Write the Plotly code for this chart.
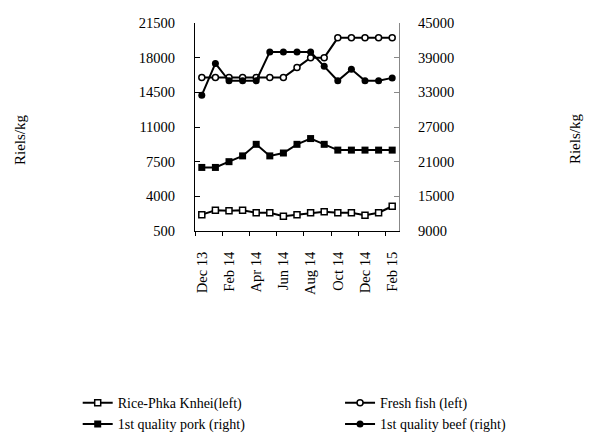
import plotly.graph_objects as go

# Monthly average retail prices, Dec 2013 - Feb 2015
months = ["Dec 13", "Jan 14", "Feb 14", "Mar 14", "Apr 14", "May 14", "Jun 14",
          "Jul 14", "Aug 14", "Sep 14", "Oct 14", "Nov 14", "Dec 14", "Jan 15", "Feb 15"]

rice = [2150, 2600, 2550, 2600, 2350, 2350, 2000, 2150, 2350, 2450, 2350, 2350, 2100, 2350, 3000]
fish = [16000, 16000, 16000, 16000, 16000, 16000, 16000, 17000, 18000, 18000,
        20000, 20000, 20000, 20000, 20000]
pork = [20000, 20000, 21000, 22000, 24000, 22000, 22500, 24000, 25000, 24000,
        23000, 23000, 23000, 23000, 23000]
beef = [32500, 38000, 35000, 35000, 35000, 40000, 40000, 40000, 40000, 37500,
        35000, 37000, 35000, 35000, 35500]

left_ticks = [500, 4000, 7500, 11000, 14500, 18000, 21500]
right_ticks = [9000, 15000, 21000, 27000, 33000, 39000, 45000]
unit_label = "Riels/kg"

FONT = "Liberation Serif, Times New Roman, serif"
LINE = dict(color="black", width=2)

fig = go.Figure()
# Left-axis series go in the first legend column, right-axis ones below them
fig.add_trace(go.Scatter(
    x=months, y=rice, name="Rice-Phka Knhei(left)", mode="lines+markers",
    legend="legend", line=LINE,
    marker=dict(symbol="square", size=6, color="white",
                line=dict(color="black", width=1.5))))
fig.add_trace(go.Scatter(
    x=months, y=fish, name="Fresh fish (left)", mode="lines+markers",
    legend="legend2", line=LINE,
    marker=dict(symbol="circle", size=6, color="white",
                line=dict(color="black", width=1.5))))
fig.add_trace(go.Scatter(
    x=months, y=pork, name="1st quality pork (right)", mode="lines+markers",
    yaxis="y2", legend="legend", line=LINE,
    marker=dict(symbol="square", size=7, color="black")))
fig.add_trace(go.Scatter(
    x=months, y=beef, name="1st quality beef (right)", mode="lines+markers",
    yaxis="y2", legend="legend2", line=LINE,
    marker=dict(symbol="circle", size=7, color="black")))

legend_style = dict(orientation="v", yanchor="top", xanchor="left", y=-0.751,
                    font=dict(size=14), bgcolor="rgba(0,0,0,0)", borderwidth=0,
                    tracegroupgap=0)

fig.update_layout(
    width=589, height=434,
    margin=dict(l=195, r=190, t=23, b=203, autoexpand=False),
    paper_bgcolor="white", plot_bgcolor="white",
    font=dict(family=FONT, size=14.5, color="black"),
    showlegend=True,
    legend=dict(x=-0.575, **legend_style),
    legend2=dict(x=0.711, **legend_style),
    xaxis=dict(
        type="category", range=[-0.5, 14.5], dtick=2, tickangle=-90,
        tickson="boundaries", ticks="outside", ticklen=4, tickcolor="black",
        showline=True, linecolor="black", linewidth=1, showgrid=False,
        zeroline=False, ticklabelstandoff=14),
    yaxis=dict(
        range=[500, 21500], tickvals=left_ticks, tickformat="d", ticks="inside",
        ticklen=5, tickcolor="black", showline=True, linecolor="black",
        linewidth=1, showgrid=False, zeroline=False, ticklabelstandoff=16),
    yaxis2=dict(
        range=[9000, 45000], tickvals=right_ticks, tickformat="d",
        overlaying="y", side="right", ticks="inside", ticklen=5,
        tickcolor="#888888", showline=True, linecolor="#888888", linewidth=1,
        showgrid=False, zeroline=False, ticklabelstandoff=15),
    annotations=[
        dict(text=unit_label, textangle=-90, xref="paper", yref="paper",
             x=-0.858, y=0.442, xanchor="center", yanchor="middle",
             showarrow=False, font=dict(size=15)),
        dict(text=unit_label, textangle=-90, xref="paper", yref="paper",
             x=1.863, y=0.442, xanchor="center", yanchor="middle",
             showarrow=False, font=dict(size=15)),
    ],
)

fig.write_html("out.html")
